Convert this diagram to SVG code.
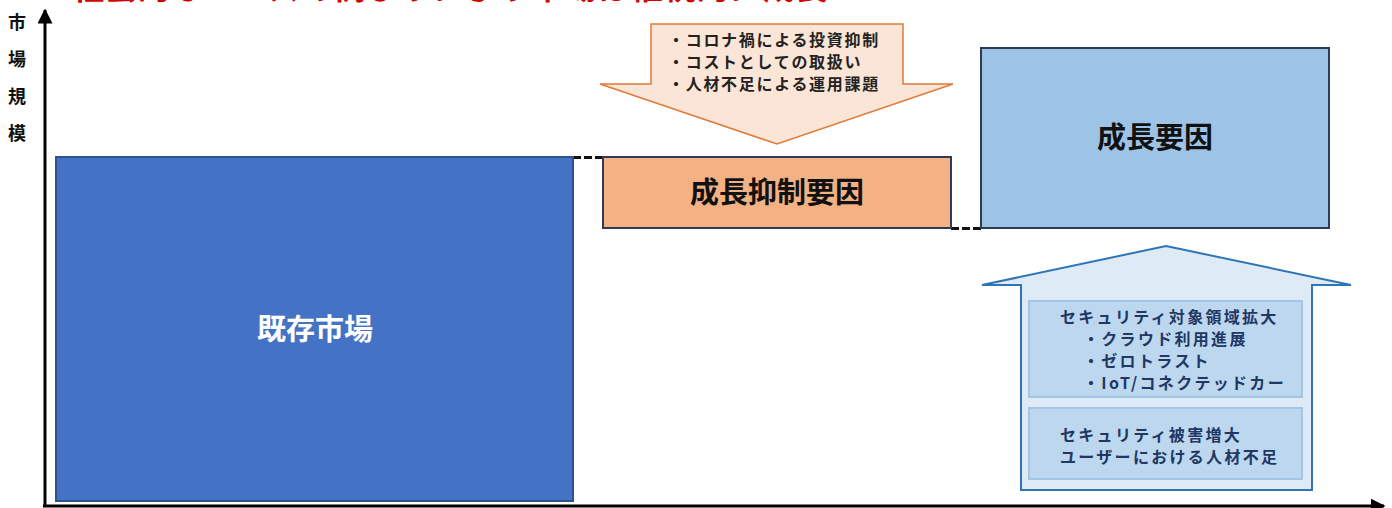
<svg xmlns="http://www.w3.org/2000/svg" width="1392" height="508" viewBox="0 0 1392 508">
<style>
text{font-family:"Noto Sans CJK JP","Noto Sans",sans-serif;}
.big{font-size:29px;font-weight:700;text-anchor:middle;}
.sm{font-size:16px;font-weight:700;letter-spacing:1.7px;fill:#222;}
.bl{font-size:16px;font-weight:700;letter-spacing:2.3px;fill:#1F3864;}
.ax{font-size:18px;font-weight:700;fill:#111;text-anchor:middle;}
.dash{stroke:#111;stroke-width:3;stroke-dasharray:8 3;fill:none;}
.axis{stroke:#000;stroke-width:3;fill:none;}
</style>
<defs>
<marker id="ah" viewBox="0 0 10 10" refX="9" refY="5" markerWidth="5" markerHeight="5" markerUnits="strokeWidth" orient="auto">
<path d="M0,0 L10,5 L0,10 z" fill="#000"/>
</marker>
</defs>
<rect width="1392" height="508" fill="#fff"/>
<text x="72" y="-1" style="font-size:32px;font-weight:700;letter-spacing:1px;fill:#D40000">社会的なニーズの高まりにより市場は継続的に成長</text>
<g id="axis-label">
<text class="ax" x="17" y="29">市</text>
<text class="ax" x="17" y="66">場</text>
<text class="ax" x="17" y="103">規</text>
<text class="ax" x="17" y="140">模</text>
</g>
<g id="connectors">
<line class="axis" x1="45" y1="507" x2="45" y2="10" marker-end="url(#ah)"/>
<line class="axis" x1="43" y1="506" x2="1384" y2="506" stroke-width="2.5" marker-end="url(#ah)"/>
<line class="dash" x1="573" y1="157.5" x2="603" y2="157.5"/>
<line class="dash" x1="951" y1="228.5" x2="981" y2="228.5"/>
</g>
<g id="existing-market">
<rect x="56" y="157" width="517" height="344" fill="#4472C4" stroke="#2F528F" stroke-width="2"/>
<text class="big" x="315" y="340" fill="#fff">既存市場</text>
</g>
<g id="inhibit">
<rect x="603" y="157" width="348" height="71" fill="#F4B183" stroke="#2F3B55" stroke-width="2"/>
<text class="big" x="777" y="203" fill="#111">成長抑制要因</text>
</g>
<g id="growth">
<rect x="981" y="48" width="348" height="180" fill="#9DC3E6" stroke="#2F3B55" stroke-width="2"/>
<text class="big" x="1155" y="148" fill="#111">成長要因</text>
</g>
<g id="down-arrow">
<polygon points="651,24 903,24 903,84 953,84 777,144 600,84 651,84" fill="#FBE5D6" stroke="#E07B39" stroke-width="1.5"/>
<text class="sm" x="668" y="46">・コロナ禍による投資抑制</text>
<text class="sm" x="668" y="68">・コストとしての取扱い</text>
<text class="sm" x="668" y="90">・人材不足による運用課題</text>
</g>
<g id="up-arrow">
<polygon points="1166,246 1351,285 1312,285 1312,490 1021,490 1021,285 982,285" fill="#DEEBF7" stroke="#2E75B6" stroke-width="2"/>
</g>
<g id="box-expand">
<rect x="1029" y="301" width="273" height="96" fill="#BDD7EE" stroke="#A3C5E6" stroke-width="2"/>
<text class="bl" x="1060" y="323">セキュリティ対象領域拡大</text>
<text class="bl" x="1083" y="345">・クラウド利用進展</text>
<text class="bl" x="1083" y="367">・ゼロトラスト</text>
<text class="bl" x="1083" y="389">・IoT/コネクテッドカー</text>
</g>
<g id="box-damage">
<rect x="1029" y="408" width="273" height="71" fill="#BDD7EE" stroke="#A3C5E6" stroke-width="2"/>
<text class="bl" x="1060" y="441">セキュリティ被害増大</text>
<text class="bl" x="1060" y="463">ユーザーにおける人材不足</text>
</g>
</svg>
